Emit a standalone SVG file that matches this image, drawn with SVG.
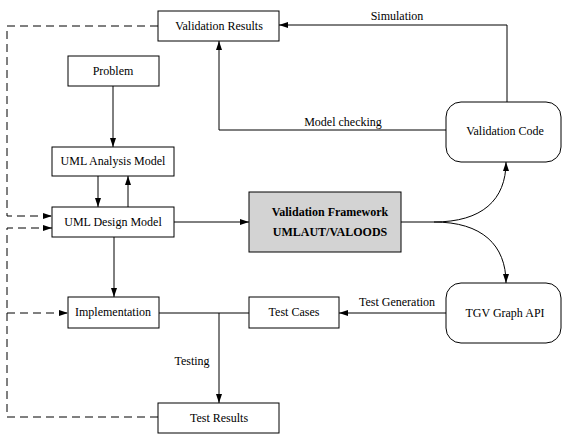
<svg xmlns="http://www.w3.org/2000/svg" width="564" height="435" viewBox="0 0 564 435">
<style>
.box{fill:#fff;stroke:#000;stroke-width:1}
.t{font-family:"Liberation Serif",serif;font-size:12px;fill:#000;text-anchor:middle}
.b{font-weight:bold}
.ln{fill:none;stroke:#000;stroke-width:1}
.ds{fill:none;stroke:#000;stroke-width:1;stroke-dasharray:8,5}
</style>
<defs>
<marker id="ah" markerWidth="9" markerHeight="6" refX="9" refY="3" orient="auto" markerUnits="userSpaceOnUse">
<path d="M0,0 L9,3 L0,6 Z" fill="#000"/>
</marker>
</defs>
<rect width="564" height="435" fill="#fff"/>
<g id="connectors">
<path class="ds" d="M158,26 H7 V216 H52" marker-end="url(#ah)"/>
<path class="ds" d="M158,417 H7 V228 H52" marker-end="url(#ah)"/>
<path class="ds" d="M7,313 H68" marker-end="url(#ah)"/>
<path class="ln" d="M113,86 V147" marker-end="url(#ah)"/>
<path class="ln" d="M98,176 V207" marker-end="url(#ah)"/>
<path class="ln" d="M128,207 V176" marker-end="url(#ah)"/>
<path class="ln" d="M174,222 H249" marker-end="url(#ah)"/>
<path class="ln" d="M114,237 V297" marker-end="url(#ah)"/>
<path class="ln" d="M401,222 H434"/>
<path class="ln" d="M434,222 C482,222 506,200 506,162" marker-end="url(#ah)"/>
<path class="ln" d="M434,222 C482,222 506,245 506,283" marker-end="url(#ah)"/>
<path class="ln" d="M507,102 V25 H279" marker-end="url(#ah)"/>
<path class="ln" d="M446,130 H219 V41" marker-end="url(#ah)"/>
<path class="ln" d="M446,313 H339" marker-end="url(#ah)"/>
<path class="ln" d="M159,313 H249"/>
<path class="ln" d="M219,313 V403" marker-end="url(#ah)"/>
<text class="t" x="397" y="20">Simulation</text>
<text class="t" x="343" y="126">Model checking</text>
<text class="t" x="397" y="306">Test Generation</text>
<text class="t" x="192" y="365">Testing</text>
</g>
<g id="validation-results"><rect class="box" x="158" y="11" width="121" height="30"/><text class="t" x="219" y="30">Validation Results</text></g>
<g id="problem"><rect class="box" x="68" y="56" width="91" height="30"/><text class="t" x="113" y="75">Problem</text></g>
<g id="uml-analysis"><rect class="box" x="52" y="147" width="122" height="29"/><text class="t" x="113" y="165">UML Analysis Model</text></g>
<g id="uml-design"><rect class="box" x="52" y="207" width="122" height="30"/><text class="t" x="113" y="226">UML Design Model</text></g>
<g id="framework"><rect x="249" y="192" width="152" height="60" fill="#d3d3d3" stroke="#000"/><text class="t b" x="330" y="216">Validation Framework</text><text class="t b" x="330" y="236">UMLAUT/VALOODS</text></g>
<g id="validation-code"><rect class="box" x="446" y="102" width="115" height="60" rx="15" ry="15"/><text class="t" x="505" y="135">Validation Code</text></g>
<g id="tgv"><rect class="box" x="446" y="283" width="115" height="60" rx="15" ry="15"/><text class="t" x="505" y="317">TGV Graph API</text></g>
<g id="test-cases"><rect class="box" x="249" y="297" width="90" height="31"/><text class="t" x="294" y="316">Test Cases</text></g>
<g id="implementation"><rect class="box" x="68" y="297" width="91" height="31"/><text class="t" x="113" y="316">Implementation</text></g>
<g id="test-results"><rect class="box" x="158" y="403" width="121" height="30"/><text class="t" x="219" y="422">Test Results</text></g>
</svg>
